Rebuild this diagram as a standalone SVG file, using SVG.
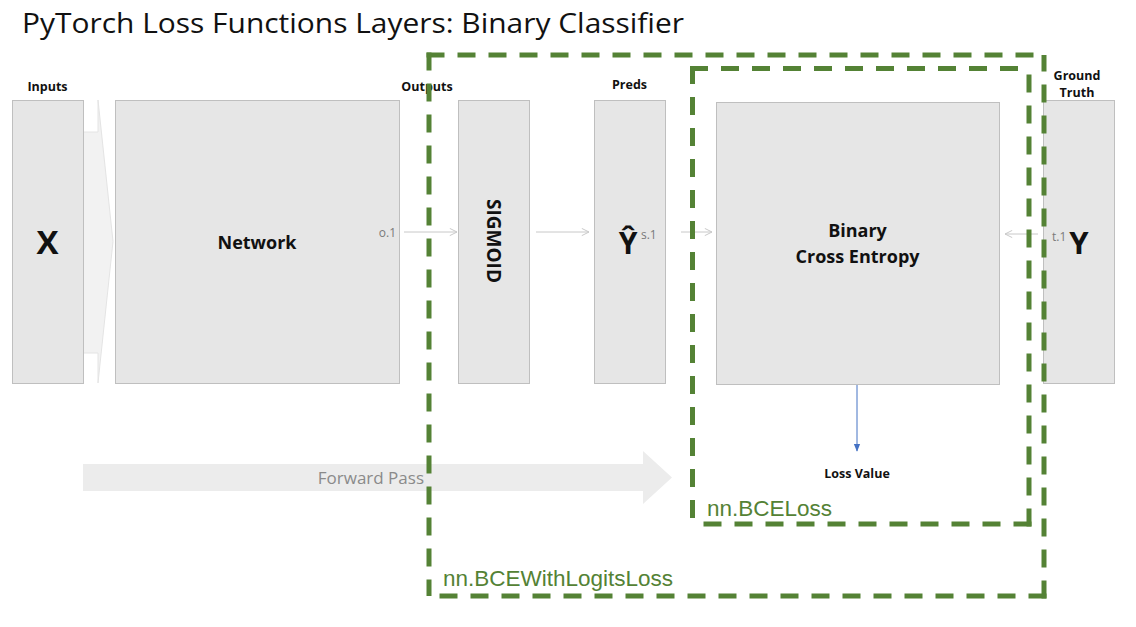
<svg xmlns="http://www.w3.org/2000/svg" width="1136" height="627" viewBox="0 0 1136 627">
<defs>
<style>
.box{fill:#e6e6e6;stroke:#bfbfbf;stroke-width:1}
.lbl{font-family:"Open Sans","Noto Sans",sans-serif;font-weight:bold;font-size:12.5px;fill:#111;text-anchor:middle}
.big{font-family:"Open Sans","Noto Sans",sans-serif;font-weight:bold;fill:#111}
.sub{font-family:"Open Sans","Noto Sans",sans-serif;font-size:12px;fill:#7a7a7a}
.conn{stroke:#c8c8c8;stroke-width:1;fill:none}
.dash{stroke:#548235;stroke-width:5;fill:none;stroke-dasharray:18 13}
.grn{font-family:"Liberation Sans",Arial,sans-serif;font-size:22.5px;fill:#548235}
</style>
<marker id="open" viewBox="0 0 10 10" refX="9" refY="5" markerWidth="9" markerHeight="9" markerUnits="userSpaceOnUse" orient="auto">
<path d="M1,1 L9,5 L1,9" fill="none" stroke="#c8c8c8" stroke-width="1.1"/>
</marker>
<marker id="blue" viewBox="0 0 10 10" refX="9" refY="5" markerWidth="8" markerHeight="8" markerUnits="userSpaceOnUse" orient="auto">
<path d="M0,1 L10,5 L0,9 Z" fill="#4472c4"/>
</marker>
</defs>
<rect width="1136" height="627" fill="#fff"/>
<text x="22" y="33" font-family="'Open Sans','Noto Sans',sans-serif" font-size="28" fill="#111" textLength="662" lengthAdjust="spacingAndGlyphs">PyTorch Loss Functions Layers: Binary Classifier</text>

<g id="forward-pass">
<path d="M83,464 H643 V451 L672,477.5 L643,504 V491 H83 Z" fill="#ececec"/>
<text x="424" y="484" text-anchor="end" font-family="'Open Sans','Noto Sans',sans-serif" font-size="17" fill="#8a8a8a">Forward Pass</text>
</g>

<g id="input-arrow">
<path d="M83,132 H98 V100 L113,241.5 L98,383 V353 H83 Z" fill="#f2f2f2" stroke="#e4e4e4" stroke-width="1"/>
</g>

<g id="inputs">
<rect class="box" x="12.5" y="100.5" width="71" height="283"/>
<text class="lbl" x="47.5" y="91">Inputs</text>
<text class="big" x="47.5" y="254" font-size="33" text-anchor="middle">X</text>
</g>
<g id="network">
<rect class="box" x="115.5" y="100.5" width="284" height="283"/>
<text class="big" x="257" y="249" font-size="18" text-anchor="middle">Network</text>
<text class="sub" x="396" y="237" text-anchor="end">o.1</text>
</g>
<g id="outputs-label">
<text class="lbl" x="427" y="91">Outputs</text>
</g>
<g id="sigmoid">
<rect class="box" x="458.5" y="100.5" width="71" height="283"/>
<text class="big" font-size="19" text-anchor="middle" transform="translate(487,241) rotate(90)">SIGMOID</text>
</g>
<g id="preds">
<rect class="box" x="594.5" y="100.5" width="71" height="283"/>
<text class="lbl" x="629.5" y="89">Preds</text>
<text class="big" x="628" y="254" font-size="30" text-anchor="middle">Ŷ</text>
<text class="sub" x="641" y="239">s.1</text>
</g>
<g id="bce">
<rect class="box" x="716.5" y="102.5" width="283" height="282"/>
<text class="big" x="857.5" y="237" font-size="18" text-anchor="middle">Binary</text>
<text class="big" x="857.5" y="263" font-size="18" text-anchor="middle">Cross Entropy</text>
</g>
<g id="ground-truth">
<rect class="box" x="1043.5" y="100.5" width="71" height="283"/>
<text class="lbl" x="1077" y="80">Ground</text>
<text class="lbl" x="1077" y="97">Truth</text>
<text class="sub" x="1052" y="241">t.1</text>
<text class="big" x="1079" y="254" font-size="31" text-anchor="middle">Y</text>
</g>
<g id="loss-value">
<text class="lbl" x="857" y="478" font-size="11.5">Loss Value</text>
</g>

<g id="connectors">
<line class="conn" x1="404" y1="232" x2="457" y2="232" marker-end="url(#open)"/>
<line class="conn" x1="536" y1="232" x2="589" y2="232" marker-end="url(#open)"/>
<line class="conn" x1="681" y1="232" x2="712" y2="232" marker-end="url(#open)"/>
<line class="conn" x1="1038" y1="234" x2="1005" y2="234" marker-end="url(#open)"/>
<line x1="857" y1="385" x2="857" y2="451" stroke="#4472c4" stroke-width="1" marker-end="url(#blue)"/>
</g>

<g id="bcewithlogits-group">
<path class="dash" d="M426.5,55 H1044"/>
<path class="dash" d="M429,52.5 V596"/>
<path class="dash" d="M1046.5,596 H429"/>
<path class="dash" d="M1044,598.5 V55"/>
<text class="grn" x="443" y="586">nn.BCEWithLogitsLoss</text>
</g>
<g id="bceloss-group">
<path class="dash" d="M690,68.5 H1029"/>
<path class="dash" d="M692.5,66 V524"/>
<path class="dash" d="M1031.5,524 H692"/>
<path class="dash" d="M1029,526.5 V68"/>
<text class="grn" x="707" y="516">nn.BCELoss</text>
</g>
</svg>
